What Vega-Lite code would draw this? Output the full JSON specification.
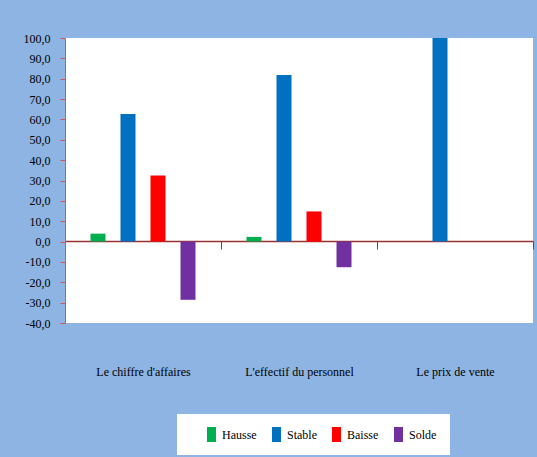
{
  "$schema": "https://vega.github.io/schema/vega-lite/v6.json",
  "width": 468,
  "height": 285,
  "autosize": {"type": "none"},
  "padding": {"left": 65, "top": 38, "right": 4, "bottom": 134},
  "background": "#8DB4E2",
  "config": {
    "locale": {"number": {"decimal": ",", "thousands": " ", "grouping": [3], "currency": ["", " €"], "minus": "-"}},
    "view": {"fill": "white", "stroke": null},
    "font": "Liberation Serif",
    "axis": {"labelFont": "Liberation Serif"}
  },
  "data": {
    "values": [
      {"categorie": "Le chiffre d'affaires", "serie": "Hausse", "valeur": 3.9},
      {"categorie": "Le chiffre d'affaires", "serie": "Stable", "valeur": 62.7},
      {"categorie": "Le chiffre d'affaires", "serie": "Baisse", "valeur": 32.5},
      {"categorie": "Le chiffre d'affaires", "serie": "Solde", "valeur": -28.6},
      {"categorie": "L'effectif du personnel", "serie": "Hausse", "valeur": 2.3},
      {"categorie": "L'effectif du personnel", "serie": "Stable", "valeur": 81.8},
      {"categorie": "L'effectif du personnel", "serie": "Baisse", "valeur": 14.8},
      {"categorie": "L'effectif du personnel", "serie": "Solde", "valeur": -12.6},
      {"categorie": "Le prix de vente", "serie": "Hausse", "valeur": 0},
      {"categorie": "Le prix de vente", "serie": "Stable", "valeur": 100},
      {"categorie": "Le prix de vente", "serie": "Baisse", "valeur": 0},
      {"categorie": "Le prix de vente", "serie": "Solde", "valeur": 0}
    ]
  },
  "mark": {"type": "bar"},
  "encoding": {
    "x": {
      "field": "categorie",
      "type": "nominal",
      "sort": null,
      "scale": {"paddingInner": 0, "paddingOuter": 0},
      "axis": {
        "title": null,
        "labelAngle": 0,
        "offset": -82,
        "domainColor": "#993333",
        "domainWidth": 1.5,
        "tickColor": "#993333",
        "tickSize": 8,
        "tickBand": "extent",
        "labelPadding": 117,
        "labelFontSize": 12,
        "labelColor": "black",
        "labelFont": "Liberation Serif"
      }
    },
    "xOffset": {
      "field": "serie",
      "type": "nominal",
      "sort": ["Hausse", "Stable", "Baisse", "Solde"],
      "scale": {"paddingInner": 0.5, "paddingOuter": 0.85}
    },
    "y": {
      "field": "valeur",
      "type": "quantitative",
      "scale": {"domain": [-40, 100], "nice": false},
      "axis": {
        "title": null,
        "values": [-40, -30, -20, -10, 0, 10, 20, 30, 40, 50, 60, 70, 80, 90, 100],
        "format": ".1f",
        "grid": false,
        "domainColor": "#D9534F",
        "tickColor": "#D9534F",
        "tickSize": 5,
        "labelPadding": 10,
        "labelFontSize": 12,
        "labelColor": "black",
        "labelFont": "Liberation Serif"
      }
    },
    "color": {
      "field": "serie",
      "type": "nominal",
      "sort": ["Hausse", "Stable", "Baisse", "Solde"],
      "scale": {"domain": ["Hausse", "Stable", "Baisse", "Solde"], "range": ["#00B050", "#0070C0", "#FF0000", "#7030A0"]},
      "legend": {
        "title": " ",
        "titleOrient": "left",
        "titlePadding": 14,
        "orient": "none",
        "legendX": 112,
        "legendY": 376,
        "direction": "horizontal",
        "fillColor": "white",
        "padding": 13,
        "symbolType": "M-0.6,-1H0.6V1H-0.6Z",
        "symbolSize": 225,
        "symbolStrokeWidth": 0,
        "symbolOpacity": 1,
        "labelFontSize": 12,
        "labelColor": "black",
        "labelFont": "Liberation Serif",
        "labelOffset": 3,
        "columnPadding": 12
      }
    }
  }
}
